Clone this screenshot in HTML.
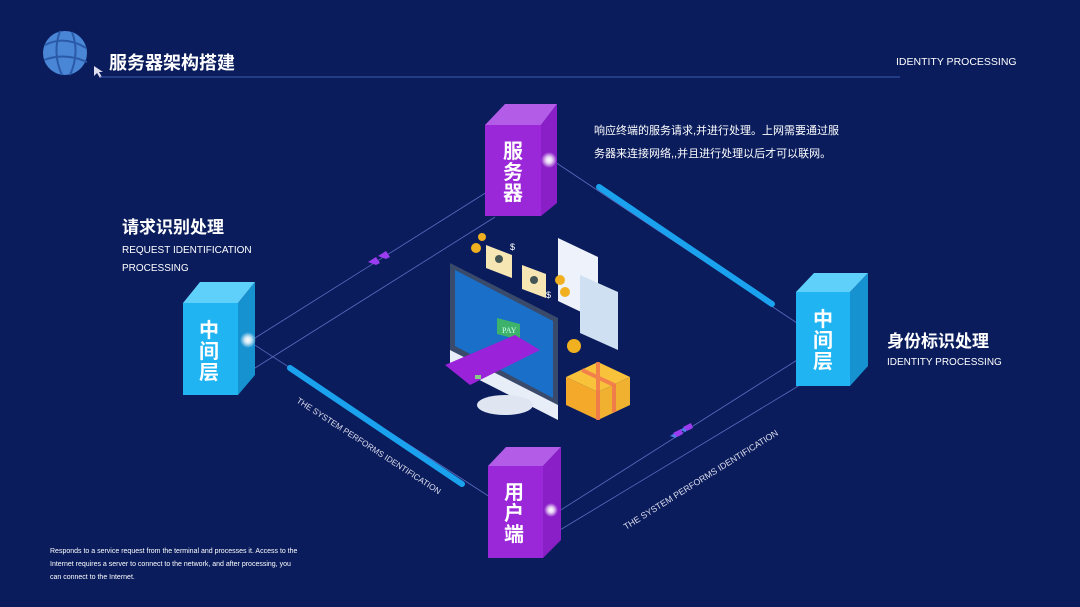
<!DOCTYPE html>
<html><head><meta charset="utf-8"><style>
body{margin:0;width:1080px;height:607px;overflow:hidden;background:#0a1c5c;font-family:"Liberation Sans","Noto Sans CJK SC",sans-serif;}
</style></head><body>
<svg width="1080" height="607" viewBox="0 0 1080 607" xmlns="http://www.w3.org/2000/svg" style="position:absolute;left:0;top:0">
<rect width="1080" height="607" fill="#0a1c5c"/>
<defs>
<radialGradient id="glow"><stop offset="0" stop-color="#fff"/><stop offset="0.4" stop-color="#fff" stop-opacity="0.8"/><stop offset="1" stop-color="#fff" stop-opacity="0"/></radialGradient>
</defs>
<circle cx="65" cy="53" r="22" fill="#4a86d6"/>
<path d="M45 45 Q65 35 86 48 M44 60 Q65 52 87 62 M60 31 Q52 53 62 75 M72 32 Q80 53 70 75" stroke="#2a5aa8" stroke-width="2" fill="none"/>
<path d="M94 66 l0 10 l3 -3 l3 5 l2 -1 l-3 -5 l4 0z" fill="#dde"/>
<line x1="100" y1="77" x2="900" y2="77" stroke="#3b5bb0" stroke-width="1"/>
<text x="109" y="69" fill="#fff" font-size="18" font-weight="bold">服务器架构搭建</text>
<text x="896" y="65" fill="#fff" font-size="10.5">IDENTITY PROCESSING</text>

<g stroke="#6f7fd8" stroke-width="0.8" fill="none" opacity="0.8">
<line x1="255" y1="338" x2="487" y2="192"/>
<line x1="255" y1="368" x2="495" y2="217"/>
<line x1="250" y1="342" x2="490" y2="497"/>
<line x1="552" y1="160" x2="800" y2="325"/>
<line x1="560" y1="530" x2="800" y2="385"/>
<line x1="545" y1="520" x2="805" y2="355"/>
</g>
<line x1="290" y1="368" x2="462" y2="484" stroke="#1aa2ee" stroke-width="6" stroke-linecap="round"/>
<line x1="599" y1="187" x2="772" y2="304" stroke="#1aa2ee" stroke-width="6" stroke-linecap="round"/>
<path d="M368 262 l8 -5 l4 6 l-4 2z M378 256 l8 -5 l4 6 l-4 2z" fill="#9b3cf0"/>
<path d="M670 436 l8 -5 l-2 7z M680 430 l8 -5 l-2 7z" fill="#4d7de8"/>
<path d="M673 433 l8 -4 l2 5 l-6 3z M683 427 l8 -4 l2 5 l-6 3z" fill="#9b3cf0"/>

<polygon points="485,125 505,104 557,104 541,125" fill="#b25ce8"/>
<polygon points="541,125 557,104 557,203 541,216" fill="#8a1fc8"/>
<rect x="485" y="125" width="56" height="91" fill="#9a27d8"/>
<text fill="#fff" font-size="20" font-weight="bold" text-anchor="middle"><tspan x="513" y="158">服</tspan><tspan x="513" y="179">务</tspan><tspan x="513" y="200">器</tspan></text>
<circle cx="549" cy="160" r="8" fill="url(#glow)"/>

<polygon points="183,303 200,282 255,282 238,303" fill="#5fd0fa"/>
<polygon points="238,303 255,282 255,375 238,395" fill="#1792d0"/>
<rect x="183" y="303" width="55" height="92" fill="#21b4f3"/>
<text fill="#fff" font-size="20" font-weight="bold" text-anchor="middle"><tspan x="209" y="337">中</tspan><tspan x="209" y="358">间</tspan><tspan x="209" y="379">层</tspan></text>
<circle cx="248" cy="340" r="8" fill="url(#glow)"/>

<polygon points="796,292 814,273 868,273 850,292" fill="#5fd0fa"/>
<polygon points="850,292 868,273 868,366 850,386" fill="#1792d0"/>
<rect x="796" y="292" width="54" height="94" fill="#21b4f3"/>
<text fill="#fff" font-size="20" font-weight="bold" text-anchor="middle"><tspan x="823" y="326">中</tspan><tspan x="823" y="347">间</tspan><tspan x="823" y="368">层</tspan></text>

<polygon points="488,466 506,447 561,447 543,466" fill="#b25ce8"/>
<polygon points="543,466 561,447 561,540 543,558" fill="#8a1fc8"/>
<rect x="488" y="466" width="55" height="92" fill="#9a27d8"/>
<text fill="#fff" font-size="20" font-weight="bold" text-anchor="middle"><tspan x="514" y="499">用</tspan><tspan x="514" y="520">户</tspan><tspan x="514" y="541">端</tspan></text>
<circle cx="551" cy="510" r="7" fill="url(#glow)"/>

<polygon points="450,263 558,318 558,405 450,350" fill="#3a4a6a"/>
<polygon points="455,270 553,321 553,398 455,346" fill="#1a6fc8"/>
<polygon points="450,350 558,405 558,420 450,365" fill="#e8eef8"/>
<ellipse cx="505" cy="405" rx="28" ry="10" fill="#dfe6f2"/>
<polygon points="497,318 520,324 520,340 497,334" fill="#3db26a"/>
<text x="502" y="333" fill="#cfe" font-size="8" font-family="Liberation Serif">PAY</text>
<polygon points="445,365 515,335 540,350 470,385" fill="#9a22d8"/>
<rect x="475" y="375" width="6" height="4" fill="#8c8"/>
<polygon points="486,245 512,255 512,278 486,268" fill="#f6e6b4"/>
<polygon points="522,265 546,274 546,298 522,289" fill="#f6e6b4"/>
<circle cx="499" cy="259" r="4" fill="#455"/><circle cx="534" cy="280" r="4" fill="#455"/>
<polygon points="558,238 598,257 598,320 558,301" fill="#eef2fa"/>
<polygon points="580,275 618,292 618,350 580,333" fill="#cfe0f2"/>
<circle cx="476" cy="248" r="5" fill="#f0b020"/><circle cx="482" cy="237" r="4" fill="#f0b020"/>
<circle cx="560" cy="280" r="5" fill="#f0b020"/><circle cx="565" cy="292" r="5" fill="#f0b020"/>
<circle cx="574" cy="346" r="7" fill="#f0b020"/>
<text x="510" y="250" fill="#fff" font-size="9">$</text><text x="546" y="298" fill="#fff" font-size="9">$</text>
<polygon points="566,377 598,362 630,377 598,392" fill="#f8c23a"/>
<polygon points="566,377 598,392 598,420 566,405" fill="#f4a92a"/>
<polygon points="598,392 630,377 630,405 598,420" fill="#f0b030"/>
<path d="M582 370 L614 385 L614 412 M598 362 L598 420" stroke="#f07050" stroke-width="4" fill="none" opacity="0.8"/>

<text x="122" y="233" fill="#fff" font-size="17" font-weight="bold">请求识别处理</text>
<text x="122" y="253" fill="#fff" font-size="10">REQUEST IDENTIFICATION</text>
<text x="122" y="271" fill="#fff" font-size="10">PROCESSING</text>
<text x="887" y="347" fill="#fff" font-size="17" font-weight="bold">身份标识处理</text>
<text x="887" y="365" fill="#fff" font-size="10">IDENTITY PROCESSING</text>
<text x="594" y="134" fill="#fff" font-size="11">响应终端的服务请求,并进行处理。上网需要通过服</text>
<text x="594" y="157" fill="#fff" font-size="11">务器来连接网络,,并且进行处理以后才可以联网。</text>
<text transform="translate(296,402) rotate(33)" fill="#dde" font-size="8.3">THE SYSTEM PERFORMS IDENTIFICATION</text>
<text transform="translate(626,530) rotate(-32)" fill="#dde" font-size="8.8">THE SYSTEM PERFORMS IDENTIFICATION</text>
<text x="50" y="553" fill="#fff" font-size="7">Responds to a service request from the terminal and processes it. Access to the</text>
<text x="50" y="566" fill="#fff" font-size="7">Internet requires a server to connect to the network, and after processing, you</text>
<text x="50" y="579" fill="#fff" font-size="7">can connect to the Internet.</text>
</svg>
</body></html>
